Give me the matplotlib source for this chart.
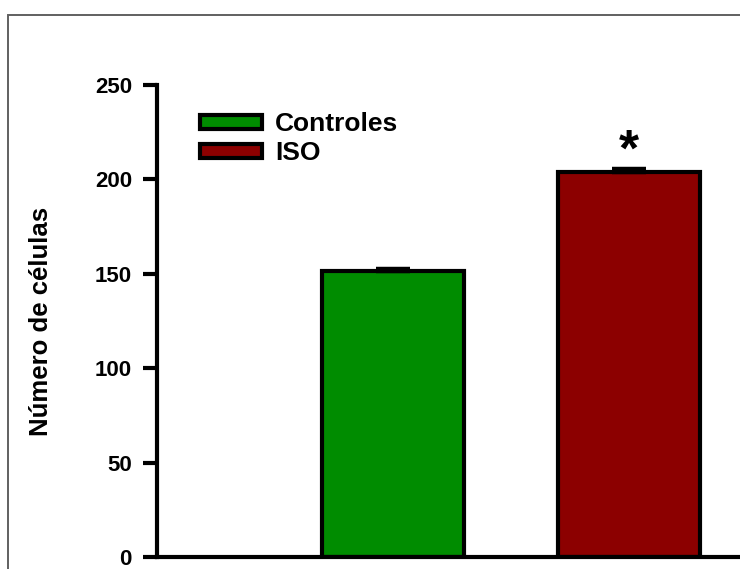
import matplotlib.pyplot as plt
from matplotlib.patches import Patch, Rectangle

plt.rcParams['font.family'] = ['Liberation Sans', 'DejaVu Sans']
plt.rcParams['font.weight'] = 'bold'

groups = ['Controles', 'ISO']
values = [151.5, 204.1]
errors = [1.2, 1.6]
colors = ['#008c00', '#8c0000']
yticks = [0, 50, 100, 150, 200, 250]

fig = plt.figure(figsize=(7.4, 5.69), dpi=100)
# grey frame around the figure, cut off at right and bottom
fig.patches.append(Rectangle((7.5/740, -0.1), 1.2, 1 - 14.5/569 + 0.1, transform=fig.transFigure,
                             fill=False, edgecolor='#606060', linewidth=1.4))

ax = fig.add_axes([157/740, 12/569, 1 - 157/740, (557 - 85)/569])
ax.patch.set_alpha(0)

lw = 3
xpos = [1, 2]
ax.bar(xpos, values, width=0.6, color=colors, edgecolor='black', linewidth=lw, zorder=2)
ax.errorbar(xpos, values, yerr=[[0, 0], errors], fmt='none', ecolor='black',
            elinewidth=lw, capsize=12, capthick=3.2, zorder=3)

ax.text(2, values[1] + 3, '*', ha='center', va='baseline', fontsize=37, fontweight='bold')

ax.set_xlim(0, 2.47)
ax.set_ylim(0, 250)
ax.set_yticks(yticks)
ax.set_xticks([])
for s in ['top', 'right']:
    ax.spines[s].set_visible(False)
for s in ['left', 'bottom']:
    ax.spines[s].set_linewidth(lw)
ax.tick_params(axis='y', length=10, width=lw, labelsize=16, pad=8)
ax.set_ylabel('Número de células', fontsize=18.5, fontweight='bold', labelpad=30)

handles = [Patch(facecolor=c, edgecolor='black', linewidth=lw) for c in colors]
ax.legend(handles, groups, loc='upper left', bbox_to_anchor=(0.055, 0.965), frameon=False,
          fontsize=19, handlelength=2.35, handleheight=0.45, handletextpad=0.5,
          labelspacing=0.2, borderaxespad=0)

fig.savefig('out.png', dpi=100)
